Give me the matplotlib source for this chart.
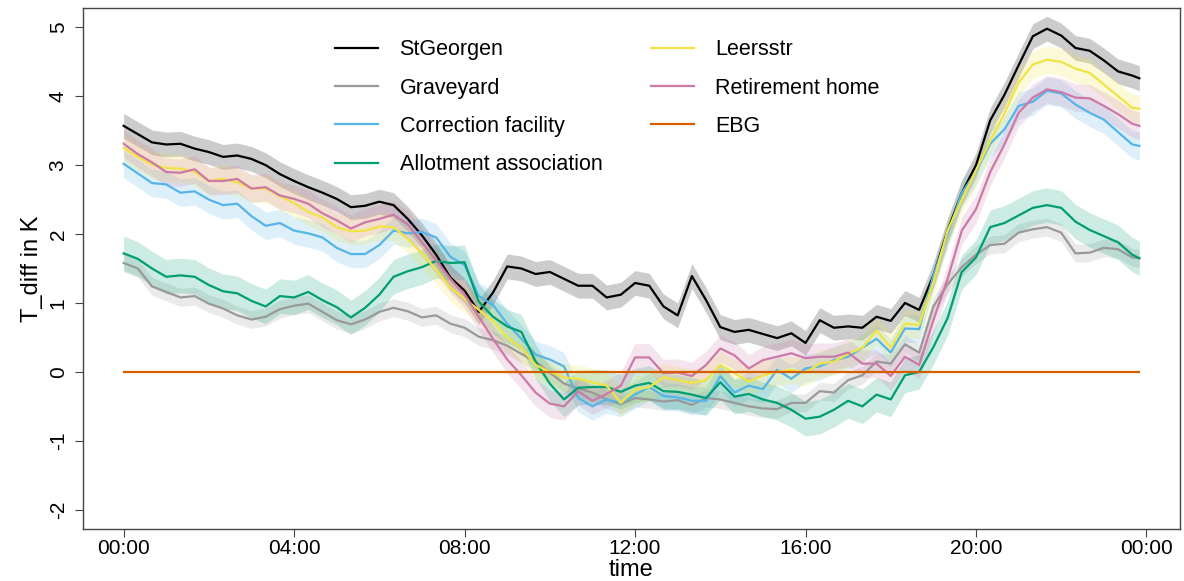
import numpy as np
import matplotlib
matplotlib.use("Agg")
import matplotlib.pyplot as plt

plt.rcParams["font.family"] = ["Liberation Sans", "DejaVu Sans"]

# 20 minute steps from 00:00 to 23:40, plus the last sample at 23:50
hours = list(np.arange(0, 24, 1 / 3)) + [23 + 50 / 60]

st_georgen = [3.57, 3.45, 3.33, 3.30, 3.31, 3.24, 3.19, 3.12, 3.14, 3.09,
              3.00, 2.87, 2.77, 2.68, 2.60, 2.51, 2.39, 2.41, 2.47, 2.42,
              2.22, 1.98, 1.70, 1.37, 1.18, 0.87, 1.15, 1.53, 1.50, 1.42,
              1.45, 1.35, 1.25, 1.25, 1.08, 1.12, 1.29, 1.25, 0.95, 0.82,
              1.39, 1.04, 0.65, 0.58, 0.61, 0.55, 0.49, 0.56, 0.42, 0.75,
              0.64, 0.66, 0.64, 0.80, 0.74, 1.00, 0.90, 1.40, 2.05, 2.60,
              3.00, 3.65, 4.02, 4.45, 4.87, 4.98, 4.88, 4.70, 4.66, 4.52,
              4.36, 4.30, 4.26]
graveyard = [1.58, 1.50, 1.24, 1.16, 1.08, 1.10, 0.99, 0.92, 0.82, 0.76,
             0.80, 0.91, 0.96, 0.99, 0.87, 0.75, 0.69, 0.76, 0.87, 0.93,
             0.88, 0.79, 0.82, 0.70, 0.64, 0.51, 0.46, 0.38, 0.26, 0.15,
             -0.01, -0.17, -0.24, -0.30, -0.40, -0.47, -0.38, -0.40, -0.43, -0.41,
             -0.48, -0.38, -0.40, -0.45, -0.50, -0.53, -0.54, -0.45, -0.45, -0.28,
             -0.30, -0.12, -0.05, 0.15, 0.12, 0.40, 0.28, 0.95, 1.27, 1.52,
             1.70, 1.84, 1.86, 2.02, 2.07, 2.10, 2.02, 1.72, 1.73, 1.80,
             1.78, 1.66, 1.65]
correction = [3.02, 2.88, 2.74, 2.72, 2.60, 2.62, 2.50, 2.42, 2.44, 2.26,
              2.12, 2.16, 2.05, 2.01, 1.95, 1.80, 1.71, 1.71, 1.84, 2.05,
              2.01, 2.03, 1.95, 1.67, 1.55, 1.10, 0.97, 0.70, 0.48, 0.25,
              0.18, 0.08, -0.38, -0.50, -0.40, -0.45, -0.33, -0.22, -0.35, -0.37,
              -0.42, -0.42, -0.06, -0.30, -0.20, -0.25, 0.03, -0.10, 0.05, 0.08,
              0.17, 0.22, 0.35, 0.48, 0.28, 0.63, 0.62, 1.40, 2.00, 2.60,
              2.90, 3.31, 3.52, 3.86, 3.92, 4.08, 4.04, 3.88, 3.76, 3.66,
              3.48, 3.30, 3.28]
allotment = [1.72, 1.64, 1.50, 1.38, 1.40, 1.38, 1.26, 1.17, 1.14, 1.03,
             0.95, 1.10, 1.08, 1.16, 1.04, 0.94, 0.79, 0.93, 1.12, 1.38,
             1.46, 1.52, 1.61, 1.58, 1.59, 1.02, 0.80, 0.66, 0.58, 0.15,
             -0.17, -0.40, -0.23, -0.22, -0.22, -0.29, -0.20, -0.16, -0.28, -0.29,
             -0.33, -0.38, -0.15, -0.36, -0.32, -0.40, -0.45, -0.55, -0.68, -0.65,
             -0.55, -0.42, -0.50, -0.33, -0.40, -0.05, 0.00, 0.36, 0.78, 1.45,
             1.66, 2.10, 2.16, 2.27, 2.38, 2.42, 2.38, 2.18, 2.06, 1.97,
             1.88, 1.70, 1.65]
leersstr = [3.25, 3.12, 3.01, 2.96, 2.95, 2.90, 2.77, 2.80, 2.75, 2.66,
            2.66, 2.55, 2.45, 2.32, 2.24, 2.10, 2.04, 2.05, 2.11, 2.10,
            1.93, 1.72, 1.48, 1.22, 1.06, 0.90, 0.74, 0.50, 0.35, 0.10,
            0.00, -0.08, -0.10, -0.15, -0.20, -0.45, -0.26, -0.22, -0.08, -0.12,
            -0.16, -0.12, 0.10, -0.02, -0.14, -0.05, 0.00, 0.03, -0.01, 0.12,
            0.15, 0.26, 0.35, 0.60, 0.35, 0.70, 0.68, 1.30, 2.05, 2.50,
            2.92, 3.35, 3.75, 4.20, 4.46, 4.53, 4.50, 4.40, 4.34, 4.17,
            4.00, 3.83, 3.82]
retirement = [3.31, 3.16, 3.04, 2.90, 2.89, 2.94, 2.77, 2.77, 2.80, 2.66,
              2.68, 2.56, 2.51, 2.44, 2.30, 2.20, 2.08, 2.17, 2.22, 2.28,
              2.14, 1.88, 1.62, 1.35, 1.12, 0.80, 0.48, 0.18, -0.05, -0.30,
              -0.46, -0.50, -0.28, -0.42, -0.32, -0.20, 0.21, 0.21, -0.02, -0.01,
              -0.06, 0.10, 0.34, 0.24, 0.05, 0.17, 0.22, 0.27, 0.20, 0.22,
              0.22, 0.28, 0.12, 0.12, -0.06, 0.22, 0.10, 0.75, 1.35, 2.05,
              2.36, 2.90, 3.30, 3.76, 3.98, 4.10, 4.06, 3.98, 3.97, 3.86,
              3.74, 3.60, 3.57]
ebg = [0.0] * len(hours)

# half width of the shaded band round each station
spread = {"StGeorgen": 0.18, "Graveyard": 0.13, "Correction facility": 0.20,
          "Allotment association": 0.25, "Leersstr": 0.20,
          "Retirement home": 0.20}

reihen = [
    ("StGeorgen", st_georgen, "#000000"),
    ("Graveyard", graveyard, "#999999"),
    ("Correction facility", correction, "#56B4E9"),
    ("Allotment association", allotment, "#009E73"),
    ("Leersstr", leersstr, "#F0E442"),
    ("Retirement home", retirement, "#CC79A7"),
]

fig = plt.figure(figsize=(11.84, 5.81), dpi=100)
ax = fig.add_axes([0.0701, 0.0895, 0.9265, 0.8967])

x = np.array(hours)
for name, werte, farbe in reihen:
    w = np.array(werte)
    ax.fill_between(x, w - spread[name], w + spread[name], color=farbe,
                    alpha=0.2, lw=0)

handles = []
for name, werte, farbe in reihen:
    h, = ax.plot(x, werte, color=farbe, lw=1.6, label=name)
    handles.append(h)
h, = ax.plot(x, ebg, color="#D55E00", lw=1.6, label="EBG")
handles.append(h)

ax.set_xlim(-0.953, 24.786)
ax.set_ylim(-2.28, 5.28)
ax.set_xticks(range(0, 25, 4))
ax.set_xticklabels(["00:00", "04:00", "08:00", "12:00", "16:00", "20:00",
                    "00:00"])
ax.set_yticks(range(-2, 6))
ax.set_yticklabels([str(v) for v in range(-2, 6)], rotation=90,
                   va="center")
ax.tick_params(labelsize=15, length=6, color="#444444", direction="out")
ax.tick_params(axis="x", pad=1)
ax.tick_params(axis="y", pad=5)
for s in ax.spines.values():
    s.set_color("#444444")
    s.set_linewidth(1)

ax.set_xlabel("time", fontsize=17, labelpad=1)
ax.set_ylabel("T_diff in K", fontsize=17, labelpad=4)

leg = ax.legend(handles=handles, ncol=2, frameon=False, fontsize=15.5,
                loc="upper left", bbox_to_anchor=(0.212, 0.977),
                handlelength=2.0, handletextpad=1.0, columnspacing=2.25,
                labelspacing=0.8)

fig.savefig("out.png", dpi=100)
